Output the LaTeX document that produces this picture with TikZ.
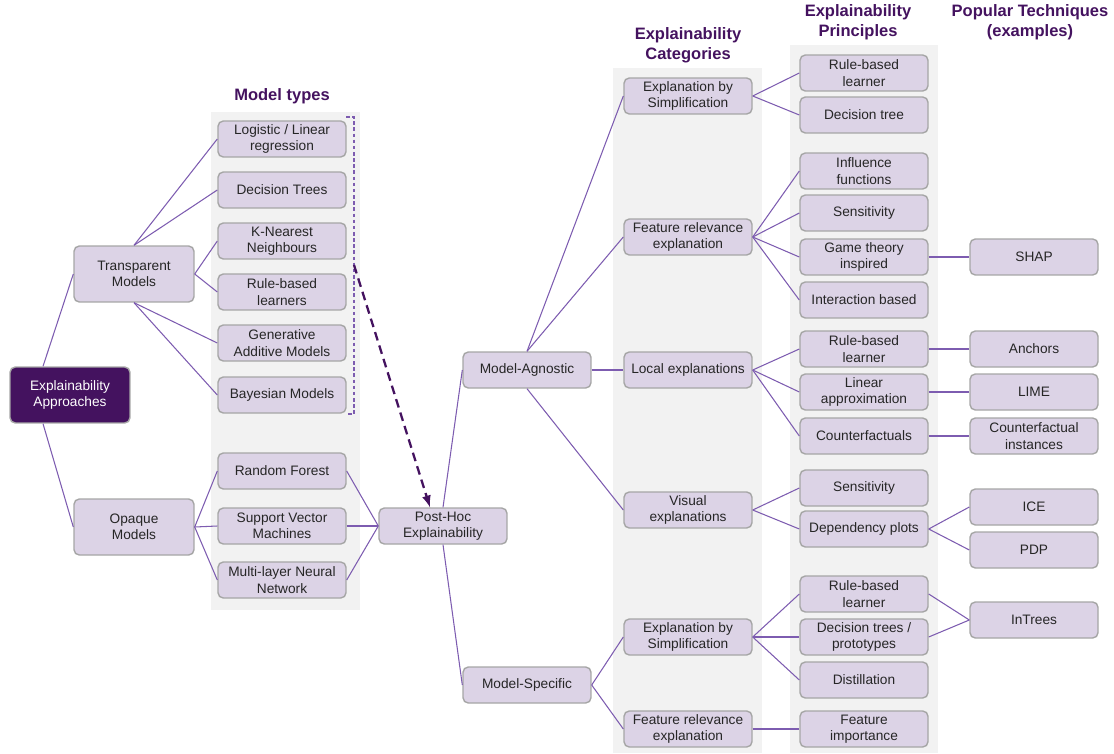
\documentclass[tikz,border=0pt]{standalone}
\usepackage{fontspec}
\setmainfont{Liberation Sans}
\definecolor{boxfill}{HTML}{DCD3E6}
\definecolor{boxline}{HTML}{A6A6A6}
\definecolor{deeppurple}{HTML}{44125F}
\definecolor{linkcol}{HTML}{7D5CB0}
\definecolor{colgray}{HTML}{F2F2F2}

\begin{document}
\begin{tikzpicture}[x=0.02cm,y=-0.02cm,>=latex,
    box/.style={draw=boxline,fill=boxfill,rounded corners=3pt,line width=0.8pt,
      minimum width=2.56cm,minimum height=0.72cm,inner sep=1pt,align=center,
      font=\fontsize{7.8}{9.4}\selectfont,text=black!85},
    bigbox/.style={box,minimum width=2.4cm,minimum height=1.12cm},
    rootbox/.style={bigbox,fill=deeppurple,text=white},
    head/.style={align=center,font=\bfseries\fontsize{9.4}{11.4}\selectfont,text=deeppurple},
    link/.style={draw=linkcol,line width=0.6pt}]
    \useasboundingbox (0,0) rectangle (1114,753);
    % grey columns
    \fill[colgray] (211,112) rectangle (360,610);
    \fill[colgray] (613,68) rectangle (762,753);
    \fill[colgray] (790,45) rectangle (938,753);
    % headings
    \node[head] (hmod)  at (282,96)  {Model types};
    \node[head] (hcat)  at (688,45)  {Explainability\\Categories};
    \node[head] (hprin) at (858,22)  {Explainability\\Principles};
    \node[head] (htech) at (1030,22) {Popular Techniques\\(examples)};
    % left part
    \node[rootbox] (root) at (70,395)  {Explainability\\Approaches};
    \node[bigbox]  (tr)   at (134,274) {Transparent\\Models};
    \node[bigbox]  (op)   at (134,527) {Opaque\\Models};
    \node[box] (lr)  at (282,139) {Logistic / Linear\\regression};
    \node[box] (dt)  at (282,190) {Decision Trees};
    \node[box] (knn) at (282,241) {K-Nearest\\Neighbours};
    \node[box] (rbl) at (282,292) {Rule-based\\learners};
    \node[box] (gam) at (282,343) {Generative\\Additive Models};
    \node[box] (bay) at (282,395) {Bayesian Models};
    \node[box] (rf)  at (282,471) {Random Forest};
    \node[box] (svm) at (282,526) {Support Vector\\Machines};
    \node[box] (mlp) at (282,580) {Multi-layer Neural\\Network};
    \node[box] (ph)  at (443,526) {Post-Hoc\\Explainability};
    \node[box] (ma)  at (527,370) {Model-Agnostic};
    \node[box] (ms)  at (527,685) {Model-Specific};
    % categories
    \node[box] (es1) at (688,96)  {Explanation by\\Simplification};
    \node[box] (fr1) at (688,237) {Feature relevance\\explanation};
    \node[box] (le)  at (688,370) {Local explanations};
    \node[box] (ve)  at (688,510) {Visual\\explanations};
    \node[box] (es2) at (688,637) {Explanation by\\Simplification};
    \node[box] (fr2) at (688,729) {Feature relevance\\explanation};
    % principles
    \node[box] (rb1)  at (864,73)  {Rule-based\\learner};
    \node[box] (dtr)  at (864,115) {Decision tree};
    \node[box] (inf)  at (864,171) {Influence\\functions};
    \node[box] (sen1) at (864,213) {Sensitivity};
    \node[box] (gth)  at (864,257) {Game theory\\inspired};
    \node[box] (intb) at (864,300) {Interaction based};
    \node[box] (rb2)  at (864,349) {Rule-based\\learner};
    \node[box] (lin)  at (864,392) {Linear\\approximation};
    \node[box] (cf)   at (864,436) {Counterfactuals};
    \node[box] (sen2) at (864,488) {Sensitivity};
    \node[box] (dep)  at (864,529) {Dependency plots};
    \node[box] (rb3)  at (864,594) {Rule-based\\learner};
    \node[box] (dtp)  at (864,637) {Decision trees /\\prototypes};
    \node[box] (dis)  at (864,680) {Distillation};
    \node[box] (fim)  at (864,729) {Feature\\importance};
    % techniques
    \node[box] (shap) at (1034,257) {SHAP};
    \node[box] (anc)  at (1034,349) {Anchors};
    \node[box] (lime) at (1034,392) {LIME};
    \node[box] (cfi)  at (1034,436) {Counterfactual\\instances};
    \node[box] (ice)  at (1034,507) {ICE};
    \node[box] (pdp)  at (1034,550) {PDP};
    \node[box] (intr) at (1034,620) {InTrees};
    % connectors
    \draw[link] ([xshift=-0.54cm]root.north) -- (tr.west);
    \draw[link] ([xshift=-0.54cm]root.south) -- (op.west);
    \draw[link] (tr.north) -- (lr.west);
    \draw[link] (tr.north) -- (dt.west);
    \draw[link] (tr.east) -- (knn.west);
    \draw[link] (tr.east) -- (rbl.west);
    \draw[link] (tr.south) -- (gam.west);
    \draw[link] (tr.south) -- (bay.west);
    \foreach \m in {rf,svm,mlp} {
      \draw[link] (op.east) -- (\m.west);
      \draw[link] (\m.east) -- (ph.west);
    }
    \draw[link] (ph.north) -- (ma.west);
    \draw[link] (ph.south) -- (ms.west);
    \draw[link] (ma.north) -- (es1.west);
    \draw[link] (ma.north) -- (fr1.west);
    \draw[link] (ma.east) -- (le.west);
    \draw[link] (ma.south) -- (ve.west);
    \draw[link] (ms.east) -- (es2.west);
    \draw[link] (ms.east) -- (fr2.west);
    \foreach \a/\b in {es1/rb1,es1/dtr,fr1/inf,fr1/sen1,fr1/gth,fr1/intb,
                       le/rb2,le/lin,le/cf,ve/sen2,ve/dep,es2/rb3,es2/dtp,es2/dis,fr2/fim,
                       gth/shap,rb2/anc,lin/lime,cf/cfi,dep/ice,dep/pdp,rb3/intr,dtp/intr}
      \draw[link] (\a.east) -- (\b.west);
    % bracket round the transparent models and arrow to post-hoc
    \coordinate (brtop) at (354,117);
    \coordinate (brbot) at (354,414);
    \coordinate (brmid) at (354,265);
    \draw[linkcol,line width=0.7pt,dash pattern=on 2pt off 1.5pt]
      ([xshift=-0.16cm]brtop) -- (brtop) -- (brbot) -- ([xshift=-0.16cm]brbot);
    \draw[->,deeppurple,line width=1.3pt,dash pattern=on 5pt off 3pt]
      (brmid) -- ([xshift=-0.26cm]ph.north);
\end{tikzpicture}
\end{document}
